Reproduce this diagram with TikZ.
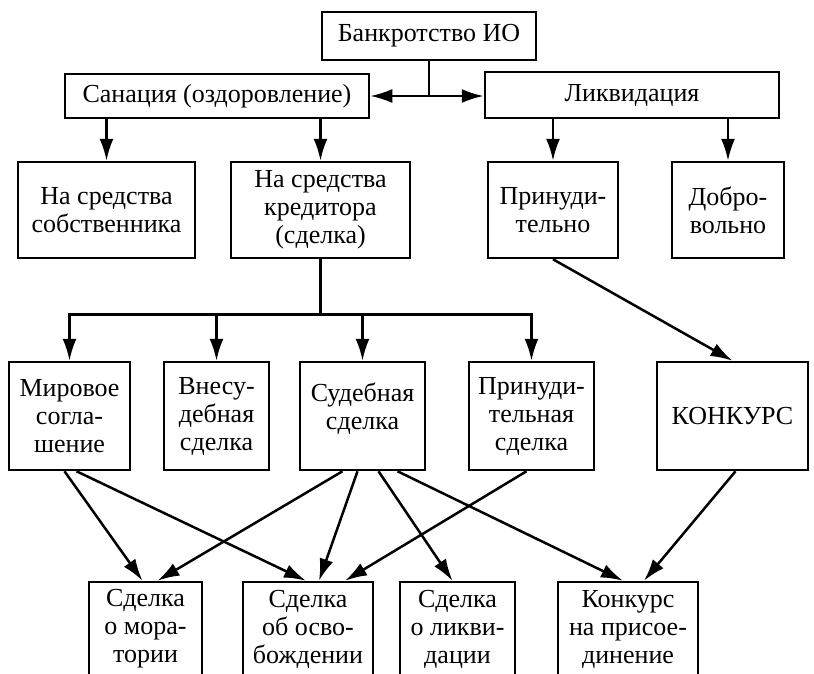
\documentclass[tikz,border=0pt]{standalone}
\usepackage{fontspec}
\setmainfont{Liberation Serif}
\usetikzlibrary{arrows.meta}

\begin{document}
\begin{tikzpicture}[x=1pt,y=-1pt,
  box/.style={draw, line width=2.5pt, align=center, inner sep=2pt,
    font=\fontsize{26}{28}\selectfont},
  arr/.style={line width=2.5pt, -{Latex[length=22pt,width=14pt]}},
  ln/.style={line width=2.5pt}]
\useasboundingbox (0,0) rectangle (814,673);
\node[box, minimum width=214pt, minimum height=48pt] (top) at (429,36) {Банкротство ИО};
\node[box, minimum width=304pt, minimum height=44pt] (san) at (217,96) {Санация (оздоровление)};
\node[box, minimum width=294pt, minimum height=46pt] (liq) at (632,95) {Ликвидация};
\node[box, minimum width=177pt, minimum height=96pt] (own) at (106.5,210) {На средства\\собственника};
\node[box, minimum width=179pt, minimum height=96pt] (cred) at (320.5,210) {На средства\\кредитора\\(сделка)};
\node[box, minimum width=130pt, minimum height=96pt] (forc) at (553,210) {Принуди-\\тельно};
\node[box, minimum width=112pt, minimum height=96pt] (vol) at (728,210) {Добро-\\вольно};
\node[box, minimum width=121pt, minimum height=108pt] (mir) at (69.5,416) {Мировое\\согла-\\шение};
\node[box, minimum width=105pt, minimum height=108pt] (vnes) at (216.5,416) {Внесу-\\дебная\\сделка};
\node[box, minimum width=125pt, minimum height=108pt, text depth=20pt] (sud) at (362.5,416) {Судебная\\сделка};
\node[box, minimum width=125pt, minimum height=108pt] (pris) at (531.5,416) {Принуди-\\тельная\\сделка};
\node[box, minimum width=151pt, minimum height=108pt] (konk) at (732.5,416) {КОНКУРС};
\node[box, minimum width=113pt, minimum height=94pt] (mor) at (145.5,629) {Сделка\\о мора-\\тории};
\node[box, minimum width=130pt, minimum height=94pt] (osv) at (308,629) {Сделка\\об осво-\\бождении};
\node[box, minimum width=115pt, minimum height=94pt] (likv) at (457.5,629) {Сделка\\о ликви-\\дации};
\node[box, minimum width=140pt, minimum height=94pt] (pri) at (628,629) {Конкурс\\на присое-\\динение};
\draw[ln] (top.south) -- (top.south |- san.east) coordinate (hub);
\draw[arr] (hub) -- (san.east);
\draw[arr] (hub) -- (hub -| liq.west);
\draw[arr] (san.south -| own.north) -- (own.north);
\draw[arr] (san.south -| cred.north) -- (cred.north);
\draw[arr] (liq.south -| forc.north) -- (forc.north);
\draw[arr] (liq.south -| vol.north) -- (vol.north);
\draw[ln] (cred.south) -- ++(0,55) coordinate (bus);
\draw[arr] (bus) -| (mir.north);
\draw[arr] (bus) -| (vnes.north);
\draw[arr] (bus) -| (sud.north);
\draw[arr] (bus) -| (pris.north);
\draw[arr] (forc.south) -- (konk.north);
\draw[arr] ([xshift=-5pt]mir.south) -- ([xshift=-3pt]mor.north);
\draw[arr] ([xshift=7pt]mir.south) -- ([xshift=-2pt]osv.north);
\draw[arr] ([xshift=-20pt]sud.south) -- ([xshift=12pt]mor.north);
\draw[arr] ([xshift=-5pt]sud.south) -- ([xshift=11pt]osv.north);
\draw[arr] ([xshift=16pt]sud.south) -- ([xshift=-5pt]likv.north);
\draw[arr] ([xshift=35pt]sud.south) -- ([xshift=-5pt]pri.north);
\draw[arr] ([xshift=-5pt]pris.south) -- ([xshift=37pt]osv.north);
\draw[arr] ([xshift=3pt]konk.south) -- ([xshift=16pt]pri.north);
\end{tikzpicture}
\end{document}
